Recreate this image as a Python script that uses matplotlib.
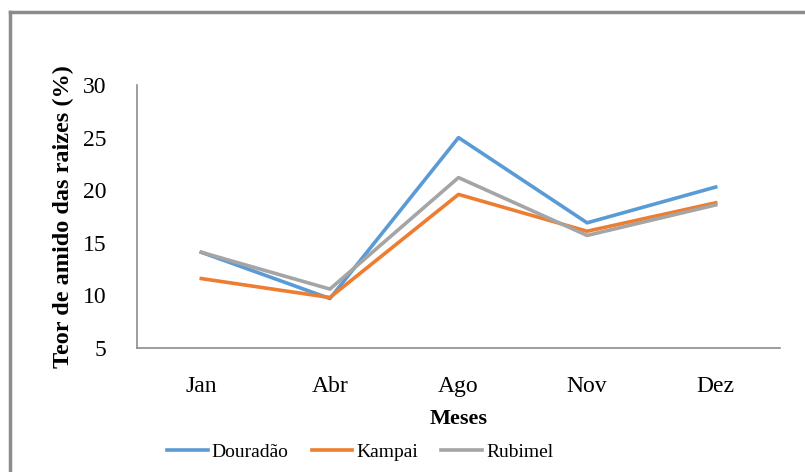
import numpy as np
import matplotlib as mpl
import matplotlib.pyplot as plt
from matplotlib.lines import Line2D

meses = ['Jan', 'Abr', 'Ago', 'Nov', 'Dez']
dourado = [14.1, 9.7, 25.0, 16.9, 20.3]
kampai = [11.6, 9.8, 19.6, 16.1, 18.8]
rubimel = [14.1, 10.6, 21.2, 15.7, 18.6]

plt.rcParams['font.family'] = ['Liberation Serif', 'DejaVu Serif']

W, H = 805, 472
fig = plt.figure(figsize=(W / 100, H / 100), dpi=100)
ax = fig.add_axes([137 / W, 1 - 348 / H, (780 - 137) / W, (348 - 85) / H])

x = np.arange(len(meses))
ax.plot(x, dourado, color='#5b9bd5', lw=2.6, label='Douradão')
ax.plot(x, kampai, color='#ed7d31', lw=2.6, label='Kampai')
ax.plot(x, rubimel, color='#a5a5a5', lw=2.6, label='Rubimel')

ax.set_xlim(-0.5, 4.5)
ax.set_ylim(5, 30)
ax.set_yticks([5, 10, 15, 20, 25, 30])
ax.set_xticks(x, meses)
ax.tick_params(length=0, labelsize=17)
ax.tick_params(axis='y', pad=22)
ax.tick_params(axis='x', pad=20)
for s in ['top', 'right']:
    ax.spines[s].set_visible(False)
for s in ['left', 'bottom']:
    ax.spines[s].set_color('#8c8c8c')
    ax.spines[s].set_linewidth(1.2)

ax.set_ylabel('Teor de amido das raizes (%)', fontsize=17.5, fontweight='bold', labelpad=6)
ax.set_xlabel('Meses', fontsize=16, fontweight='bold', labelpad=9)

fig.legend(loc='center', bbox_to_anchor=(360 / W, 1 - 452 / H), ncol=3, frameon=False,
           fontsize=14, handlelength=2.1, handletextpad=0.2, columnspacing=1.2)

# outer border of the chart area
fig.add_artist(Line2D([10 / W, 1.0], [1 - 12 / H, 1 - 12 / H], color='#8c8c8c', lw=2.5))
fig.add_artist(Line2D([10 / W, 10 / W], [0, 1 - 12 / H], color='#8c8c8c', lw=2.5))

fig.savefig('out.png', dpi=100)
